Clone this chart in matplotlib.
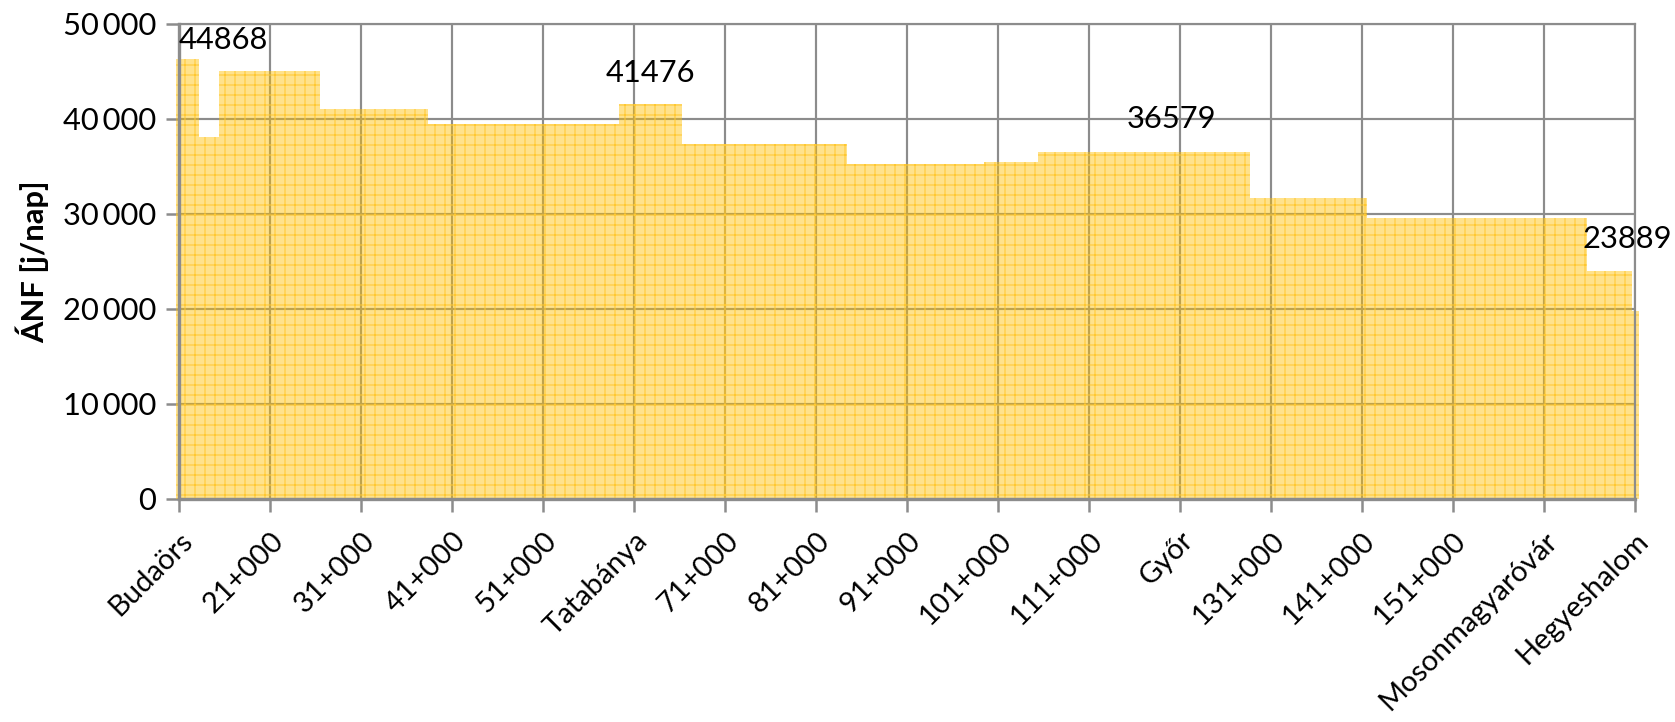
"""ÁNF step chart along the M1 motorway (Budaörs - Hegyeshalom)."""
import matplotlib
matplotlib.use("Agg")
import matplotlib.pyplot as plt
from matplotlib.ticker import FuncFormatter

# segment edges [km] and traffic values [j/nap]
edges_km = [10.7, 13.2, 15.4, 26.5, 38.3, 59.3, 66.3, 84.4, 99.5, 105.4,
            128.7, 141.6, 165.7, 170.7, 171.5]
anf = [46300, 38140, 45050, 41050, 39470, 41580, 37300, 35230, 35470,
       36500, 31650, 29610, 24030, 19790]

tick_km = [11, 21, 31, 41, 51, 61, 71, 81, 91, 101, 111, 121, 131, 141, 151, 161, 171]
tick_labels = ["Budaörs", "21+000", "31+000", "41+000", "51+000", "Tatabánya",
               "71+000", "81+000", "91+000", "101+000", "111+000", "Győr",
               "131+000", "141+000", "151+000", "Mosonmagyaróvár", "Hegyeshalom"]

# data labels: text, km, value position
label_text = ["44868", "41476", "36579", "23889"]
label_km = [15.8, 62.8, 120.1, 170.2]
label_y = [48300, 44870, 40000, 27340]

GRAY = "#8c8c8c"
YELLOW = "#FFC000"
FS = 18.5

plt.rcParams["font.family"] = ["Lato", "DejaVu Sans"]
plt.rcParams["hatch.linewidth"] = 0.6

DPI = 120
fig = plt.figure(figsize=(1675 / DPI, 722 / DPI), dpi=DPI)
ax = fig.add_axes([0.107, 0.309, 0.869, 0.658])

xs = edges_km
ys = anf + [anf[-1]]
ax.fill_between(xs, 0, ys, step="post", facecolor=YELLOW, alpha=0.45,
                linewidth=0, zorder=2, clip_on=False)
ax.fill_between(xs, 0, ys, step="post", facecolor="none", edgecolor="#FFC830",
                hatch="++", linewidth=0, zorder=2, clip_on=False)

for t, x, y in zip(label_text, label_km, label_y):
    ax.text(x, y, t, ha="center", va="center", fontsize=FS, color="black", zorder=5)

ax.set_xlim(11, 171)
ax.set_ylim(0, 50000)
ax.set_xticks(tick_km)
ax.set_xticklabels(tick_labels, rotation=45, ha="right", va="top",
                   rotation_mode="anchor", fontsize=17.5)
ax.set_yticks(range(0, 50001, 10000))
ax.yaxis.set_major_formatter(FuncFormatter(lambda v, p: f"{int(v):,}".replace(",", "\u2009")))
ax.tick_params(axis="y", labelsize=FS, length=8, width=1.5, color=GRAY, pad=6)
ax.tick_params(axis="x", length=8, width=1.5, color=GRAY, pad=9)
ax.set_ylabel("ÁNF [j/nap]", fontsize=FS, fontweight="bold", labelpad=8)

ax.grid(True, color=GRAY, linewidth=1.3, zorder=0)
ax.set_axisbelow(True)
for side in ["top", "right"]:
    ax.spines[side].set_color(GRAY)
    ax.spines[side].set_linewidth(1.3)
for side in ["left", "bottom"]:
    ax.spines[side].set_color(GRAY)
    ax.spines[side].set_linewidth(2)
    ax.spines[side].set_zorder(3)

fig.savefig("out.png", dpi=DPI)
